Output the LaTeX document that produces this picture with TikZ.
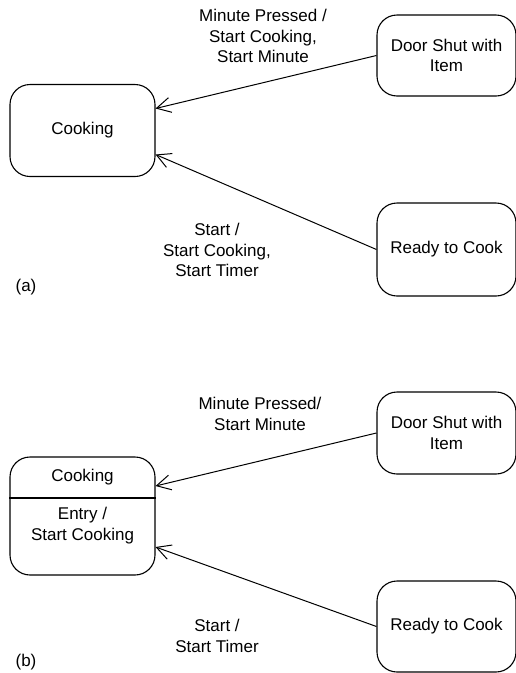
\documentclass[tikz,border=0pt]{standalone}
\usepackage{fontspec}
\setmainfont{Liberation Sans}
\usepackage{tikz}
\usetikzlibrary{arrows.meta,calc}

\begin{document}
\begin{tikzpicture}[
  x=1pt, y=-1pt,
  state/.style={draw, rounded corners=20pt, align=center, line width=1.1pt, minimum width=145pt, inner sep=2pt, font=\fontsize{17}{20.5}\selectfont},
  lbl/.style={align=center, inner sep=0pt, font=\fontsize{17}{20.5}\selectfont},
  arr/.style={-{Straight Barb[length=14pt, width=15pt, line width=1pt]}, line width=1pt}
]
  \useasboundingbox (0,0) rectangle (515,673);

  % (a)
  \node[state, minimum height=92pt] (cka) at (82.5,130.5) {Cooking};
  \node[state, minimum width=139pt, minimum height=81pt] (dsa) at (446.5,55.5) {Door Shut with\\Item};
  \node[state, minimum width=139pt, minimum height=93pt] (rca) at (446.5,249.5) {Ready to Cook};

  \draw[arr] (dsa.west) -- ($(cka.east)+(0,-22)$);
  \draw[arr] (rca.west) -- ($(cka.east)+(0,24)$);

  \node[lbl] (mpa) at (263,36) {Minute Pressed /\\Start Cooking,\\Start Minute};
  \node[lbl] (sta) at (217,250) {Start /\\Start Cooking,\\Start Timer};
  \node[lbl] (taga) at (26,287) {(a)};

  % (b)
  \node[state, minimum height=118pt] (ckb) at (82.5,516) {};
  \node[lbl] (ckbname) at (82.5,477) {Cooking};
  \node[lbl] (ckbentry) at (82.5,525.5) {Entry /\\Start Cooking};
  \draw[line width=1.1pt] (ckb.west |- 0,498) -- (ckb.east |- 0,498);
  \node[state, minimum width=139pt, minimum height=82pt] (dsb) at (446.5,433) {Door Shut with\\Item};
  \node[state, minimum width=139pt, minimum height=91pt] (rcb) at (446.5,626.5) {Ready to Cook};

  \draw[arr] (dsb.west) -- ($(ckb.east)+(0,-30)$);
  \draw[arr] (rcb.west) -- ($(ckb.east)+(0,31)$);

  \node[lbl] (mpb) at (260,414) {Minute Pressed/\\Start Minute};
  \node[lbl] (stb) at (217,636) {Start /\\Start Timer};
  \node[lbl] (tagb) at (26,662) {(b)};
\end{tikzpicture}
\end{document}
